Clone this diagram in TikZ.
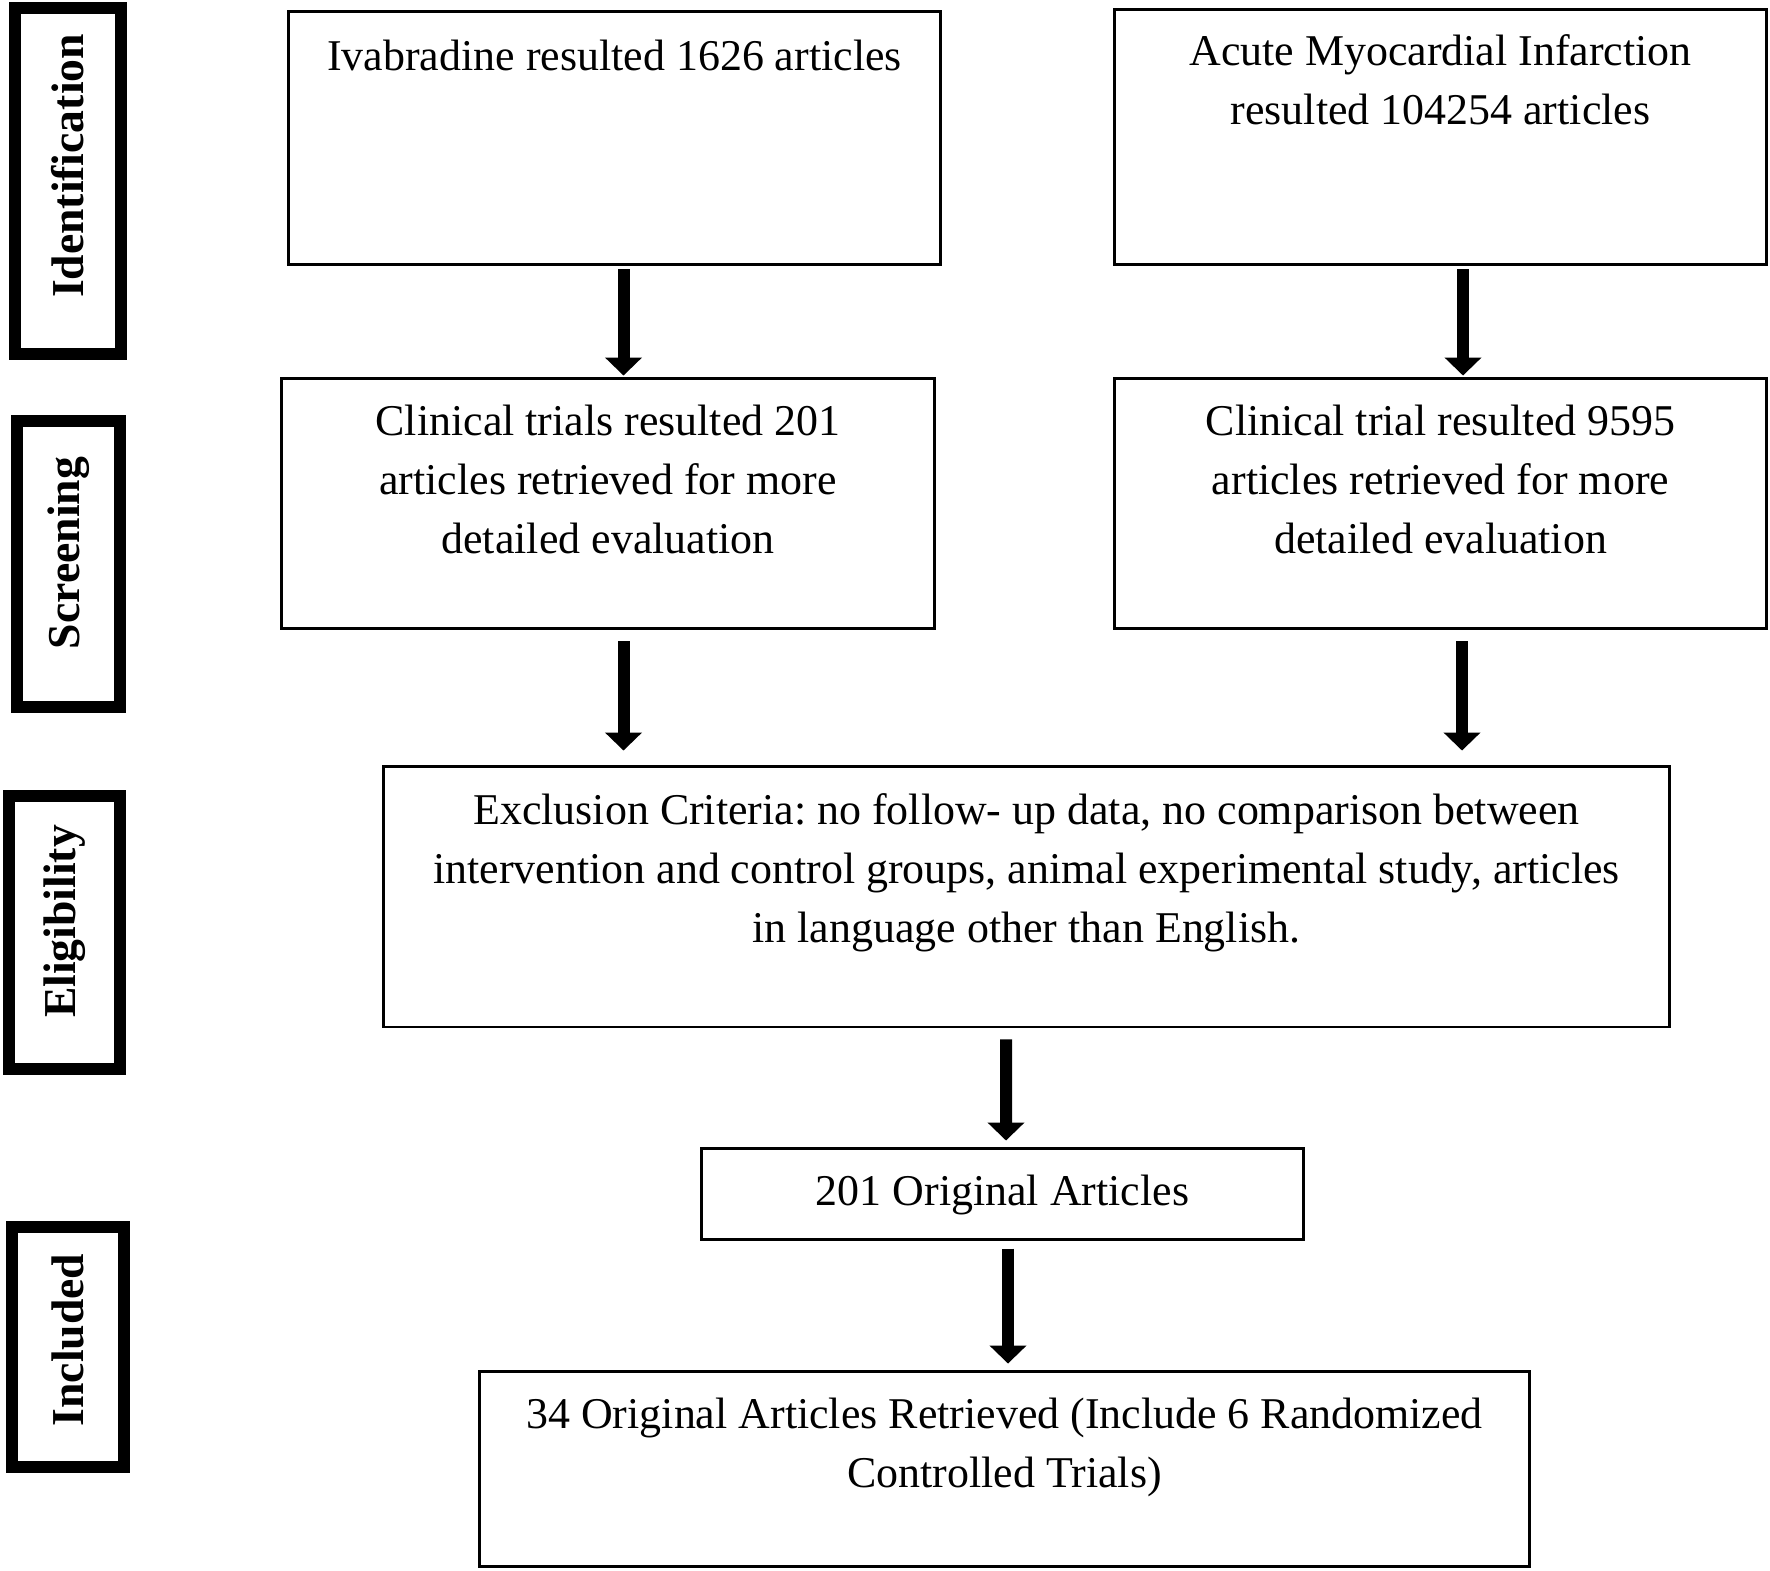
\documentclass[tikz,border=0pt]{standalone}
\usepackage{fontspec}
\setmainfont{Liberation Serif}
\usetikzlibrary{positioning, calc, arrows.meta}

\begin{document}
\frenchspacing
\begin{tikzpicture}[x=0.02cm, y=-0.02cm]
        % Define block styles
        \tikzstyle{block} = [rectangle, draw, line width=0.06cm, inner sep=0pt]
        \tikzstyle{boxtext} = [anchor=north, align=center, inner sep=0pt, font=\fontsize{25}{33.6}\selectfont]
        \tikzstyle{stage} = [rectangle, draw, line width=0.24cm, rotate=90, inner sep=0pt, font=\fontsize{26}{30}\selectfont\bfseries]
        \tikzstyle{flow} = [line width=0.24cm, -{Triangle[width=0.72cm, length=0.36cm]}]

        \useasboundingbox (0,0) rectangle (1770,1570);

        % Stages on the left
        \node [stage, minimum width=6.92cm, minimum height=2.12cm] (identification) at (68,181) {\hspace*{0.6cm}Identification};
        \node [stage, minimum width=5.72cm, minimum height=2.06cm] (screening) at (68.5,564) {\hspace*{0.44cm}Screening};
        \node [stage, minimum width=5.46cm, minimum height=2.22cm] (eligibility) at (64.5,932.5) {\hspace*{0.44cm}Eligibility};
        \node [stage, minimum width=4.8cm, minimum height=2.24cm] (included) at (68,1347) {\hspace*{0.28cm}Included};

        % Place nodes
        \node [block, minimum width=13.06cm, minimum height=5.08cm] (ivabradine) at (614.5,138) {};
        \node [block, minimum width=13.06cm, minimum height=5.12cm] (ami) at (1440.5,137) {};
        \node [block, minimum width=13.08cm, minimum height=5.02cm] (trials_iva) at (608,503.5) {};
        \node [block, minimum width=13.06cm, minimum height=5.02cm] (trials_ami) at (1440.5,503.5) {};
        \node [block, minimum width=25.74cm, minimum height=5.22cm] (exclusion) at (1026.5,896.5) {};
        \node [block, minimum width=12.06cm, minimum height=1.82cm] (original) at (1002.5,1193.5) {};
        \node [block, minimum width=21.02cm, minimum height=3.9cm] (retrieved) at (1004.5,1468.5) {};

        % Add text in the boxes
        \node [boxtext] (ivabradine_text) at ([yshift=-0.6cm]ivabradine.north) {Ivabradine resulted 1626 articles};
        \node [boxtext] (ami_text) at ([yshift=-0.54cm]ami.north) {Acute Myocardial Infarction\\resulted 104254 articles};
        \node [boxtext] (trials_iva_text) at ([yshift=-0.56cm]trials_iva.north) {Clinical trials resulted 201\\articles retrieved for more\\detailed evaluation};
        \node [boxtext] (trials_ami_text) at ([yshift=-0.56cm]trials_ami.north) {Clinical trial resulted 9595\\articles retrieved for more\\detailed evaluation};
        \node [boxtext] (exclusion_text) at ([yshift=-0.58cm]exclusion.north) {Exclusion Criteria: no follow- up data, no comparison between\\intervention and control groups, animal experimental study, articles\\in language other than English.};
        \node [boxtext] (original_text) at ([yshift=-0.56cm]original.north) {201 Original Articles};
        \node [boxtext] (retrieved_text) at ([yshift=-0.56cm]retrieved.north) {34 Original Articles Retrieved (Include 6 Randomized\\Controlled Trials)};

        % Draw connections as arrows
        \draw [flow] ($(ivabradine.south)+(9,3)$) -- ($(trials_iva.north)+(15.5,-1)$);
        \draw [flow] ($(ami.south)+(22.5,3)$) -- ($(trials_ami.north)+(22.5,-1)$);
        \draw [flow] ($(trials_iva.south)+(15.5,11)$) -- ($(trials_iva.south |- exclusion.north)+(15.5,-14)$);
        \draw [flow] ($(trials_ami.south)+(21.5,11)$) -- ($(trials_ami.south |- exclusion.north)+(21.5,-14)$);
        \draw [flow] ($(exclusion.south)+(-20.5,11)$) -- ($(original.north)+(3.5,-6)$);
        \draw [flow] ($(original.south)+(5.5,8)$) -- ($(retrieved.north)+(3.5,-6)$);
    \end{tikzpicture}
\end{document}
